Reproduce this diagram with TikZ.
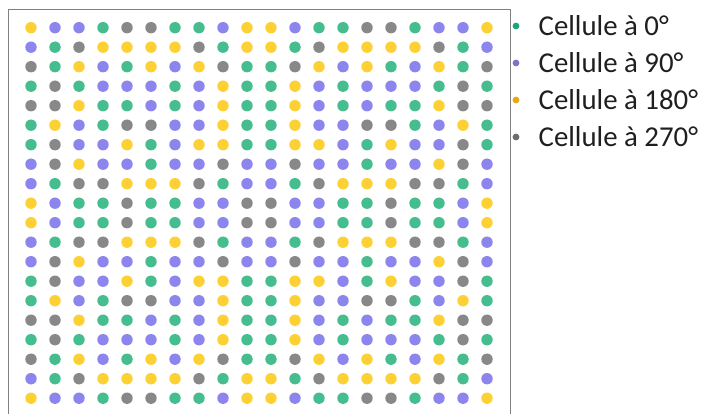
\documentclass[tikz,border=0pt]{standalone}
\usepackage{fontspec}
\setmainfont{Carlito}
\begin{document}
\begin{tikzpicture}[x=1pt,y=-1pt]
\definecolor{colG}{HTML}{45BD8F}
\definecolor{colP}{HTML}{8C85EE}
\definecolor{colY}{HTML}{FDD034}
\definecolor{colK}{HTML}{888888}
\definecolor{legG}{HTML}{1FA37A}
\definecolor{legP}{HTML}{7B72CC}
\definecolor{legY}{HTML}{E9A90E}
\definecolor{legK}{HTML}{6E6E6E}
\tikzset{legtext/.style={anchor=base west, inner sep=0pt, font=\fontsize{28.8}{34}\selectfont, text=black!88}}
\useasboundingbox (0,0) rectangle (704,414);
\fill[white] (0,0) rectangle (704,414);
\draw[black!50, line width=1.2pt] (8.5,414) -- (8.5,9.5) -- (510.5,9.5) -- (510.5,414);
\foreach \row [count=\j] in {
 {Y,P,P,G,K,K,G,G,P,Y,Y,P,G,G,K,K,G,P,P,Y},
 {P,G,K,Y,Y,Y,Y,K,G,Y,Y,G,K,Y,Y,Y,Y,K,G,P},
 {K,G,Y,P,G,Y,P,Y,K,G,G,K,Y,P,Y,G,P,Y,G,K},
 {G,K,G,P,P,P,G,P,Y,G,G,Y,P,G,P,P,P,G,K,G},
 {K,K,Y,G,G,P,G,P,Y,G,G,Y,P,G,P,G,G,Y,K,K},
 {G,Y,P,G,K,K,P,P,Y,G,G,Y,P,P,K,K,G,P,Y,G},
 {G,K,P,P,Y,G,P,Y,Y,G,G,Y,Y,P,G,Y,P,P,K,G},
 {P,K,Y,P,P,G,P,P,K,P,P,K,P,P,G,P,P,Y,K,P},
 {P,G,K,K,Y,Y,Y,K,G,P,P,G,K,Y,Y,Y,K,K,G,P},
 {Y,P,G,G,K,G,G,P,P,K,K,P,P,G,G,K,G,G,P,Y},
 {Y,P,G,G,K,G,G,P,P,K,K,P,P,G,G,K,G,G,P,Y},
 {P,G,K,K,Y,Y,Y,K,G,P,P,G,K,Y,Y,Y,K,K,G,P},
 {P,K,Y,P,P,G,P,P,K,P,P,K,P,P,G,P,P,Y,K,P},
 {G,K,P,P,Y,G,P,Y,Y,G,G,Y,Y,P,G,Y,P,P,K,G},
 {G,Y,P,G,K,K,P,P,Y,G,G,Y,P,P,K,K,G,P,Y,G},
 {K,K,Y,G,G,P,G,P,Y,G,G,Y,P,G,P,G,G,Y,K,K},
 {G,K,G,P,P,P,G,P,Y,G,G,Y,P,G,P,P,P,G,K,G},
 {K,G,Y,P,G,Y,P,Y,K,G,G,K,Y,P,Y,G,P,Y,G,K},
 {P,G,K,Y,Y,Y,Y,K,G,Y,Y,G,K,Y,Y,Y,Y,K,G,P},
 {Y,P,P,G,K,K,G,G,P,Y,Y,P,G,G,K,K,G,P,P,Y}} {
  \foreach \c [count=\i] in \row {
    \fill[col\c] ({31+24*(\i-1)},{27.7+19.5*(\j-1)}) circle (5.7pt);
  }
}
\fill[legG] (516,26) circle (3.4pt);
\fill[legP] (516,63) circle (3.4pt);
\fill[legY] (516,100) circle (3.4pt);
\fill[legK] (516,137) circle (3.4pt);
\node[legtext] (l0) at (538.5,36) {Cellule à 0°};
\node[legtext] (l90) at (538.5,73) {Cellule à 90°};
\node[legtext] (l180) at (538.5,110) {Cellule à 180°};
\node[legtext] (l270) at (538.5,147) {Cellule à 270°};
\end{tikzpicture}
\end{document}
